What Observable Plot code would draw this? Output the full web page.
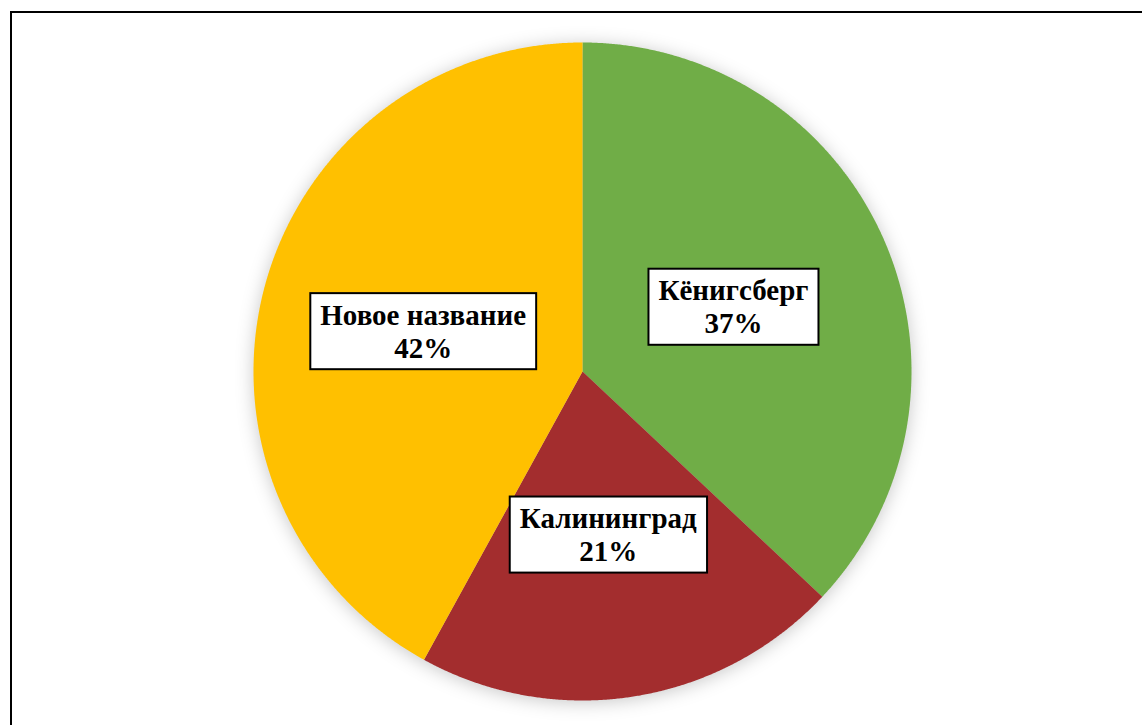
<!DOCTYPE html>
<html>
<head>
<meta charset="utf-8">
<script src="https://cdn.jsdelivr.net/npm/d3@7"></script>
<script src="https://cdn.jsdelivr.net/npm/@observablehq/plot@0.6"></script>
<style>
  html, body { margin: 0; padding: 0; background: #fff; overflow: hidden; }
  #wrap { position: relative; width: 1142px; height: 725px; overflow: hidden; }
  #frame { position: absolute; left: 10px; top: 11px; width: 1300px; height: 900px; border: 2.5px solid #000; box-sizing: border-box; pointer-events: none; z-index: 2; }
  #chart { position: absolute; left: 0; top: 0; }
  #chart g[aria-label="line"] { filter: drop-shadow(0px 2px 9px rgba(0,0,0,0.22)); }
</style>
</head>
<body>
<div id="wrap"><div id="frame"></div><div id="chart"></div></div>
<script>
const names = ["Кёнигсберг", "Калининград", "Новое название"];
const shares = [37, 21, 42];
const colors = ["#70AD47", "#A32D2E", "#FFC000"];

const total = d3.sum(shares);
const pts = [];
const labels = [];
let acc = 0;
names.forEach((name, i) => {
  const a0 = acc / total * 2 * Math.PI;
  acc += shares[i];
  const a1 = acc / total * 2 * Math.PI;
  const n = Math.ceil((a1 - a0) / (Math.PI / 720));
  pts.push({name, x: 0, y: 0});
  for (let k = 0; k <= n; k++) {
    const t = a0 + (a1 - a0) * k / n;
    pts.push({name, x: Math.sin(t), y: Math.cos(t)});
  }
  const m = (a0 + a1) / 2;
  labels.push({name, pct: shares[i], x: 0.5 * Math.sin(m), y: 0.5 * Math.cos(m)});
});

const chart = Plot.plot({
  width: 1142,
  height: 725,
  marginLeft: 253,
  marginRight: 231,
  marginTop: 42,
  marginBottom: 25,
  style: {background: "transparent", overflow: "visible"},
  x: {domain: [-1, 1], axis: null},
  y: {domain: [-1, 1], axis: null},
  color: {domain: names, range: colors},
  marks: [
    Plot.line(pts, {x: "x", y: "y", z: "name", fill: "name", stroke: "none", curve: "linear-closed"}),
    Plot.text(labels, {
      x: "x", y: "y",
      text: d => `${d.name}\n${d.pct}%`,
      fontFamily: "Liberation Serif",
      fontWeight: "bold",
      fontSize: 29,
      lineHeight: 1.14,
      fill: "#000",
      textAnchor: "middle"
    })
  ]
});
document.getElementById("chart").append(chart);

// white label boxes behind each text, sized from the rendered text
const padX = 10, padY = 5.5;
chart.querySelectorAll('g[aria-label="text"] text').forEach(t => {
  const bb = t.getBBox();
  const r = document.createElementNS("http://www.w3.org/2000/svg", "rect");
  r.setAttribute("x", bb.x - padX);
  r.setAttribute("y", bb.y - padY);
  r.setAttribute("width", bb.width + 2 * padX);
  r.setAttribute("height", bb.height + 2 * padY);
  r.setAttribute("fill", "#fff");
  r.setAttribute("stroke", "#000");
  r.setAttribute("stroke-width", "2");
  if (t.getAttribute("transform")) r.setAttribute("transform", t.getAttribute("transform"));
  t.parentNode.insertBefore(r, t);
});
</script>
</body>
</html>
